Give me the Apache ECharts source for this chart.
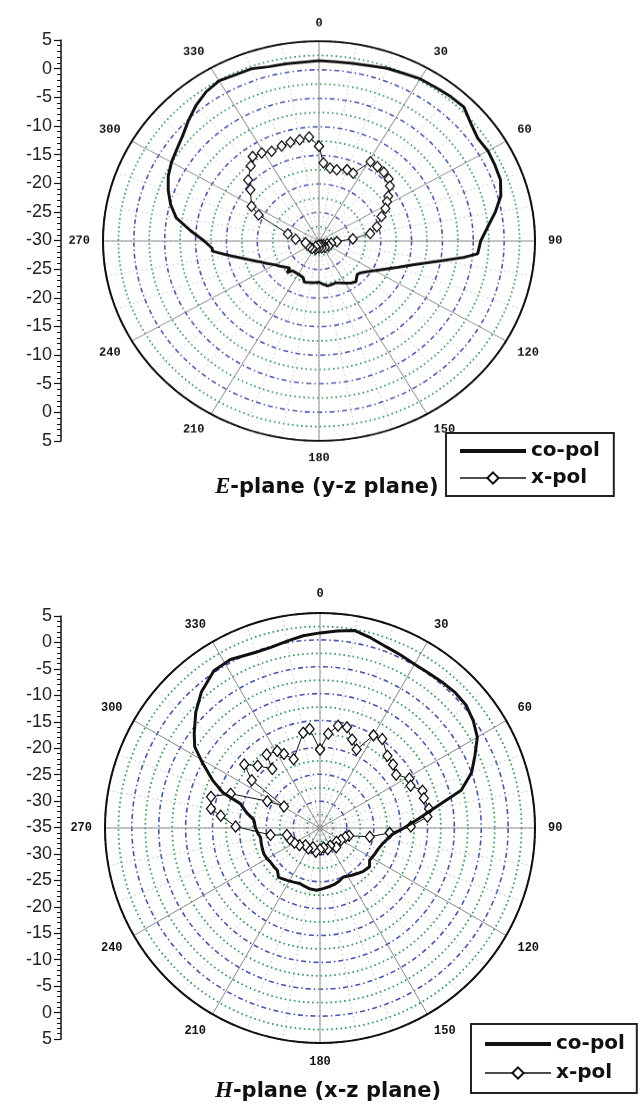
<!DOCTYPE html>
<html>
<head>
<meta charset="utf-8">
<script src="https://cdn.jsdelivr.net/npm/echarts@6/dist/echarts.min.js"></script>
<style>
body { margin: 0; background: #fff; }
#scale { position: absolute; left: 0; top: 0; width: 642px; height: 1107px; }
#polarE { position: absolute; left: 0; top: 0; width: 642px; height: 482px; transform: scaleY(0.925); transform-origin: 319px 241px; }
#polarH { position: absolute; left: 0; top: 560px; width: 642px; height: 547px; }
</style>
</head>
<body>
<div id="scale"></div>
<div id="polarE"></div>
<div id="polarH"></div>
<script>
// E-plane (y-z plane), gain in dB vs angle in degrees
var eCoAngles = [0,5,10,15,20,25,30,35,40,45,50,55,60,65,70,75,80,85,90,95,97,100,105,110,115,120,125,130,133,136,140,145,150,155,160,165,170,175,180,185,190,195,198,202,210,215,220,223,225,230,235,240,245,250,255,260,264,266,270,275,280,285,290,295,300,305,310,315,320,325,330,335,340,345,350,355,360];
var eCoGain = [1.6,1.5,1.6,1.8,2.2,2.4,2.8,2.9,3.1,3.2,2.1,1.4,1.6,1.45,1.3,0.5,-1.0,-2.6,-3.8,-4.2,-6.4,-10.0,-14.0,-16.5,-18.3,-19.6,-20.6,-21.3,-21.5,-21.2,-20.7,-21.0,-21.5,-21.9,-22.2,-22.1,-22.0,-22.4,-22.8,-22.7,-22.6,-22.5,-22.4,-23.1,-23.3,-23.3,-23.2,-22.4,-23.3,-22.9,-22.3,-21.7,-20.7,-19.5,-17.8,-15.3,-12.7,-12.6,-11.4,-9.1,-6.5,-5.1,-4.0,-3.05,-2.4,-1.9,-1.2,-0.1,1.0,1.9,2.4,2.1,2.1,1.6,1.5,1.45,1.6];
var eXAngles = [0,3,8,13,20,25,31,36,41,46,50,55,58,62,67,75,81,86,92,100,110,120,130,140,150,160,170,180,190,200,210,220,235,250,262,275,284,295,299,309,313,320,324,329,334,340,345,350,355,360];
var eXGain = [-13.4,-16.3,-17.1,-17.2,-16.7,-16.9,-13.8,-13.9,-14.0,-14.3,-15.0,-16.3,-17.0,-17.8,-19.0,-20.3,-21.6,-24.5,-27.1,-28.0,-28.6,-28.2,-29.0,-28.5,-29.2,-28.7,-29.3,-28.8,-29.2,-28.5,-28.9,-28.3,-28.2,-28.0,-27.8,-26.2,-24.8,-19.2,-17.5,-15.7,-14.3,-12.8,-11.7,-12.0,-12.5,-12.3,-12.1,-12.0,-11.7,-13.4];

// H-plane (x-z plane)
var hCoAngles = [0,5,10,15,20,25,30,35,40,45,50,55,60,65,70,75,80,85,90,95,100,104,110,115,123,128,135,140,146,150,155,160,165,170,177,183,189,195,200,206,212,220,225,230,236,240,245,250,255,261,265,270,277,282,287,290,294,299,303,307,313,319,326,332,340,345,350,355,360];
var hCoGain = [1.3,1.8,2.3,1.6,0.9,0.5,0.2,0.2,0.4,0.6,0.5,-0.2,-1.2,-3.2,-5.0,-7.8,-13.3,-16.8,-19.4,-21.5,-22.4,-23.0,-23.5,-23.7,-24.0,-23.3,-23.6,-24.0,-24.4,-24.7,-24.9,-24.5,-24.2,-24.0,-23.7,-23.4,-23.5,-23.8,-24.0,-23.8,-23.5,-23.0,-23.8,-23.8,-23.8,-23.6,-23.5,-23.6,-23.7,-23.8,-23.4,-23.0,-22.6,-21.0,-19.5,-15.8,-13.1,-10.0,-7.2,-5.7,-3.4,-1.4,0.3,0.5,-0.2,-0.15,0.3,0.9,1.3];
var hXAngles = [0,5,10,15,20,25,30,35,43,49,55,61,65,70,74,80,84,89,94,100,105,110,120,130,140,150,160,170,180,190,200,210,220,230,240,250,258,262,271,277,280,286,291,297,301,305,310,315,321,324,331,334,339,350,354,360];
var hXGain = [-20.4,-17.4,-15.7,-15.6,-17.5,-18.9,-15.1,-14.8,-16.6,-17.0,-17.7,-16.0,-16.4,-14.7,-14.9,-14.4,-14.9,-18.1,-22.0,-25.6,-29.4,-30.0,-30.5,-31.0,-30.3,-31.2,-30.8,-31.3,-31.0,-30.5,-31.2,-30.6,-30.8,-30.0,-29.5,-29.0,-28.7,-25.7,-19.3,-16.4,-14.4,-13.9,-17.2,-24.0,-27.2,-19.5,-16.6,-18.6,-20.9,-18.1,-18.6,-19.7,-21.3,-17.0,-16.5,-20.4];

// left dB scales, read from top to bottom
var eScaleLabels = ['5','0','-5','-10','-15','-20','-25','-30','-25','-20','-15','-10','-5','0','5'];
var hScaleLabels = ['5','0','-5','-10','-15','-20','-25','-30','-35','-30','-25','-20','-15','-10','-5','0','5'];

function pairs(angles, gains) {
    return angles.map(function (a, i) { return [gains[i], a]; });
}

function polarOption(cx, cy, R, rMin, rMax, co, xp) {
    var hidden = { show: false };
    return {
        animation: false,
        polar: [
            { center: [cx, cy], radius: R },
            { center: [cx, cy], radius: R }
        ],
        angleAxis: [{
            polarIndex: 0,
            type: 'value', min: 0, max: 360, interval: 30,
            startAngle: 90, clockwise: true, z: 3,
            axisLine: { show: true, lineStyle: { color: '#111', width: 2 } },
            axisTick: hidden,
            axisLabel: {
                margin: 13, color: '#111', fontSize: 12, fontWeight: 'bold',
                fontFamily: 'Liberation Mono',
                formatter: function (v) { return v === 360 ? '' : String(v); }
            },
            splitLine: { show: true, lineStyle: { color: '#8e8e8e', width: 1 } }
        }, {
            polarIndex: 1,
            type: 'value', min: 0, max: 360, interval: 10,
            startAngle: 90, clockwise: true,
            axisLine: hidden, axisTick: hidden, axisLabel: hidden,
            splitLine: { show: true, lineStyle: { color: '#c4c4c4', width: 1, type: [1.5, 3] } }
        }],
        radiusAxis: [{
            polarIndex: 0,
            type: 'value', min: rMin, max: rMax, interval: 2.5,
            axisLine: hidden, axisTick: hidden, axisLabel: hidden,
            splitLine: { show: true, lineStyle: { color: ['#4454b6', 'rgba(0,0,0,0)'], width: 1.6, type: [5, 3, 1.5, 3] } }
        }, {
            polarIndex: 1,
            type: 'value', min: rMin, max: rMax, interval: 2.5,
            axisLine: hidden, axisTick: hidden, axisLabel: hidden,
            splitLine: { show: true, lineStyle: { color: ['rgba(0,0,0,0)', '#2f9f56'], width: 1.8, type: [1.6, 3] } }
        }],
        series: [{
            name: 'co-pol', type: 'line', coordinateSystem: 'polar', polarIndex: 0,
            data: co, symbol: 'none', z: 5,
            lineStyle: { color: '#111', width: 3 }
        }, {
            name: 'x-pol', type: 'line', coordinateSystem: 'polar', polarIndex: 0,
            data: xp, symbol: 'diamond', symbolSize: [9, 11], z: 4,
            itemStyle: { color: '#fff', borderColor: '#111', borderWidth: 1.3 },
            lineStyle: { color: '#111', width: 1 }
        }]
    };
}

function scaleAxis(gridIndex, labels) {
    var half = (labels.length - 1) / 2 * 5;
    return {
        gridIndex: gridIndex, type: 'value', min: -half, max: half, interval: 5,
        axisLine: { show: true, lineStyle: { color: '#111', width: 1.5 } },
        axisTick: { show: true, length: 7, lineStyle: { color: '#111', width: 1.2 } },
        minorTick: { show: true, splitNumber: 5, length: 4, lineStyle: { color: '#111', width: 1 } },
        splitLine: { show: false },
        axisLabel: {
            margin: 9, color: '#222', fontSize: 18, fontFamily: 'Liberation Sans',
            formatter: function (v) { return labels[Math.round((half - v) / 5)]; }
        }
    };
}

function legendBox(left, top, pad, gap) {
    return {
        data: [
            { name: 'co-pol', itemStyle: { opacity: 0 }, lineStyle: { width: 4, color: '#111' } },
            { name: 'x-pol', lineStyle: { width: 1.5, color: '#111' } }
        ],
        orient: 'vertical', left: left, top: top,
        itemWidth: 66, itemHeight: 14, itemGap: gap, padding: pad,
        borderColor: '#222', borderWidth: 2, selectedMode: false,
        textStyle: { fontFamily: 'DejaVu Sans', fontWeight: 'bold', fontSize: 20, color: '#111' }
    };
}

var titleRich = { e: { fontFamily: 'Liberation Serif', fontStyle: 'italic', fontWeight: 'bold', fontSize: 23, color: '#111' } };

var scaleChart = echarts.init(document.getElementById('scale'));
scaleChart.setOption({
    animation: false,
    backgroundColor: '#fff',
    grid: [
        { left: 61, top: 40, width: 1, height: 401 },
        { left: 61, top: 616, width: 1, height: 423 }
    ],
    xAxis: [
        { gridIndex: 0, type: 'value', show: false },
        { gridIndex: 1, type: 'value', show: false }
    ],
    yAxis: [scaleAxis(0, eScaleLabels), scaleAxis(1, hScaleLabels)],
    title: [{
        text: '{e|E}-plane (y-z plane)', left: 215, top: 476, padding: 0,
        textStyle: { fontFamily: 'DejaVu Sans', fontWeight: 'bold', fontSize: 21, color: '#111', rich: titleRich }
    }, {
        text: '{e|H}-plane (x-z plane)', left: 215, top: 1080, padding: 0,
        textStyle: { fontFamily: 'DejaVu Sans', fontWeight: 'bold', fontSize: 21, color: '#111', rich: titleRich }
    }],
    legend: [legendBox(446, 433, [8, 14, 8, 12], 7), legendBox(471, 1024, [10, 12, 10, 12], 9)],
    series: [
        { name: 'co-pol', type: 'line', data: [], symbol: 'none', lineStyle: { color: '#111', width: 4 }, itemStyle: { color: '#111' } },
        { name: 'x-pol', type: 'line', data: [], symbol: 'diamond', lineStyle: { color: '#111', width: 1.5 },
          itemStyle: { color: '#fff', borderColor: '#111', borderWidth: 1.5 } }
    ]
});

var polarE = echarts.init(document.getElementById('polarE'));
polarE.setOption(polarOption(319, 241, 216, -30, 5, pairs(eCoAngles, eCoGain), pairs(eXAngles, eXGain)));

var polarH = echarts.init(document.getElementById('polarH'));
polarH.setOption(polarOption(320, 268, 215, -35, 5, pairs(hCoAngles, hCoGain), pairs(hXAngles, hXGain)));
</script>
</body>
</html>
